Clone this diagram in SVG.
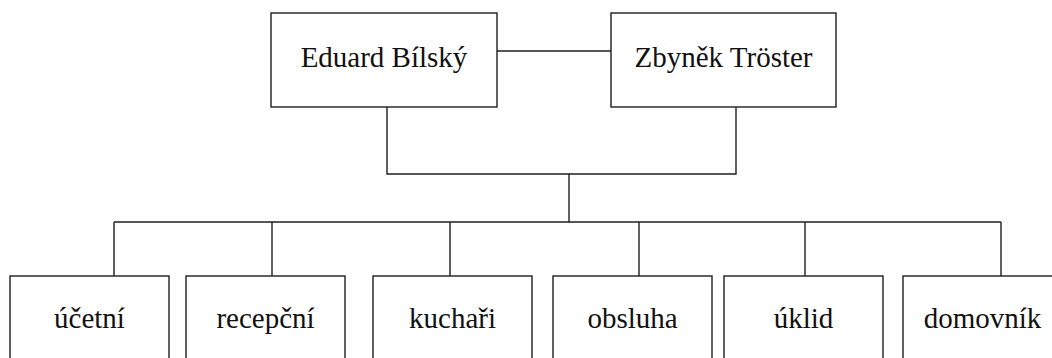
<svg xmlns="http://www.w3.org/2000/svg" width="1052" height="358" viewBox="0 0 1052 358">
  <style>
    .box { fill: #ffffff; stroke: #1e1e1e; stroke-width: 1.4; }
    .link { fill: none; stroke: #1e1e1e; stroke-width: 1.4; }
    .label { font-family: "Liberation Serif", "Times New Roman", serif; font-size: 29px; fill: #111111; text-anchor: middle; }
  </style>
  <rect width="1052" height="358" fill="#ffffff"/>

  <!-- connectors -->
  <g id="connectors">
    <line class="link" x1="497" y1="51" x2="611" y2="51"/>
    <polyline class="link" points="387,107 387,174 736,174 736,107"/>
    <line class="link" x1="569" y1="174" x2="569" y2="222"/>
    <line class="link" x1="114" y1="222" x2="1001" y2="222"/>
    <line class="link" x1="114" y1="222" x2="114" y2="276"/>
    <line class="link" x1="272" y1="222" x2="272" y2="276"/>
    <line class="link" x1="450" y1="222" x2="450" y2="276"/>
    <line class="link" x1="639" y1="222" x2="639" y2="276"/>
    <line class="link" x1="805" y1="222" x2="805" y2="276"/>
    <line class="link" x1="1001" y1="222" x2="1001" y2="276"/>
  </g>

  <!-- management -->
  <g id="eduard-bilsky">
    <rect class="box" x="271" y="13" width="226" height="94"/>
    <text class="label" x="384" y="67">Eduard Bílský</text>
  </g>
  <g id="zbynek-troster">
    <rect class="box" x="611" y="13" width="225" height="94"/>
    <text class="label" x="723.5" y="67">Zbyněk Tröster</text>
  </g>

  <!-- staff -->
  <g id="ucetni">
    <rect class="box" x="10" y="276" width="159" height="100"/>
    <text class="label" x="89.5" y="328">účetní</text>
  </g>
  <g id="recepcni">
    <rect class="box" x="186" y="276" width="159" height="100"/>
    <text class="label" x="265.5" y="328">recepční</text>
  </g>
  <g id="kuchari">
    <rect class="box" x="373" y="276" width="159" height="100"/>
    <text class="label" x="452.5" y="328">kuchaři</text>
  </g>
  <g id="obsluha">
    <rect class="box" x="553" y="276" width="159" height="100"/>
    <text class="label" x="632.5" y="328">obsluha</text>
  </g>
  <g id="uklid">
    <rect class="box" x="724" y="276" width="159" height="100"/>
    <text class="label" x="803.5" y="328">úklid</text>
  </g>
  <g id="domovnik">
    <rect class="box" x="903" y="276" width="159" height="100"/>
    <text class="label" x="982.5" y="328">domovník</text>
  </g>
</svg>
